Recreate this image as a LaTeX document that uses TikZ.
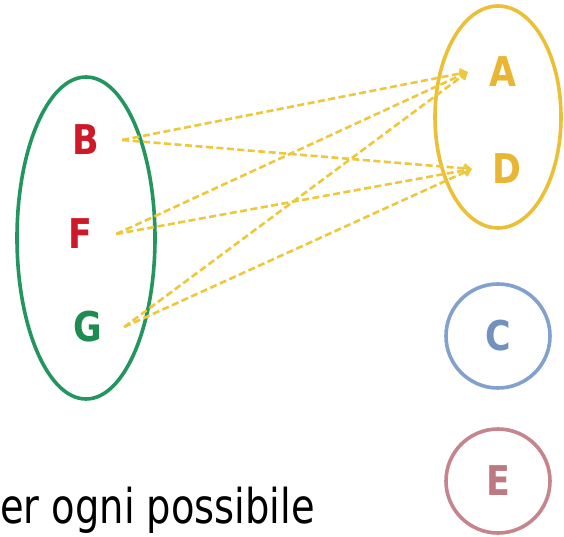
\documentclass[tikz,border=0pt]{standalone}
\usepackage{fontspec}
\usetikzlibrary{arrows.meta}
\newfontfamily\letfont{DejaVu Sans}[FakeStretch=0.85]
\newfontfamily\captfont{DejaVu Sans}[FakeStretch=0.8]
\definecolor{setgreen}{RGB}{35,150,95}
\definecolor{letred}{RGB}{205,25,40}
\definecolor{letgreen}{RGB}{30,140,80}
\definecolor{setyellow}{RGB}{235,192,55}
\definecolor{linkyellow}{RGB}{238,200,60}
\definecolor{letyellow}{RGB}{232,182,50}
\definecolor{setblue}{RGB}{130,162,205}
\definecolor{letblue}{RGB}{115,145,190}
\definecolor{setrose}{RGB}{198,132,142}
\definecolor{letrose}{RGB}{190,120,130}
\tikzset{
  letter/.style={font=\letfont\bfseries\fontsize{41}{44}\selectfont, inner sep=0pt, minimum height=44pt},
  leftel/.style={letter, minimum width=72pt},
  rightel/.style={letter, minimum width=70pt},
  setline/.style={line width=3.6pt},
  link/.style={draw=linkyellow, line width=2.6pt, dash pattern=on 7pt off 3.5pt,
    -{Straight Barb[length=6pt,width=9pt,line width=1.8pt]}},
}
\begin{document}
\begin{tikzpicture}[x=1pt,y=-1pt]
\useasboundingbox (0,0) rectangle (564,537);
\clip (0,0) rectangle (564,537);
\fill[white] (0,0) rectangle (564,537);
% sets
\draw[setline, setgreen] (86,238) ellipse [x radius=69, y radius=161];
\draw[setline, setyellow] (498,117) ellipse [x radius=63, y radius=111];
\draw[setline, setblue] (498,336) circle [radius=52];
\draw[setline, setrose] (498,481) circle [radius=52];
% elements
\node[leftel, text=letred] (B) at (86,140) {B};
\node[leftel, text=letred] (F) at (80,234) {F};
\node[leftel, text=letgreen] (G) at (88,327) {G};
\node[rightel, text=letyellow] (A) at (503,72) {A};
\node[rightel, text=letyellow] (D) at (507,169) {D};
\node[letter, text=letblue] (C) at (498,336) {C};
\node[letter, text=letrose] (E) at (498,481) {E};
% connectors
\draw[link] (B.east) -- (A.west);
\draw[link] (B.east) -- (D.west);
\draw[link] (F.east) -- (A.west);
\draw[link] (F.east) -- (D.west);
\draw[link] (G.east) -- (A.west);
\draw[link] (G.east) -- (D.west);
% caption
\node[anchor=base west, inner sep=0pt, font=\captfont\fontsize{48}{52}\selectfont] (cap) at (0,523) {er ogni possibile};
\end{tikzpicture}
\end{document}
